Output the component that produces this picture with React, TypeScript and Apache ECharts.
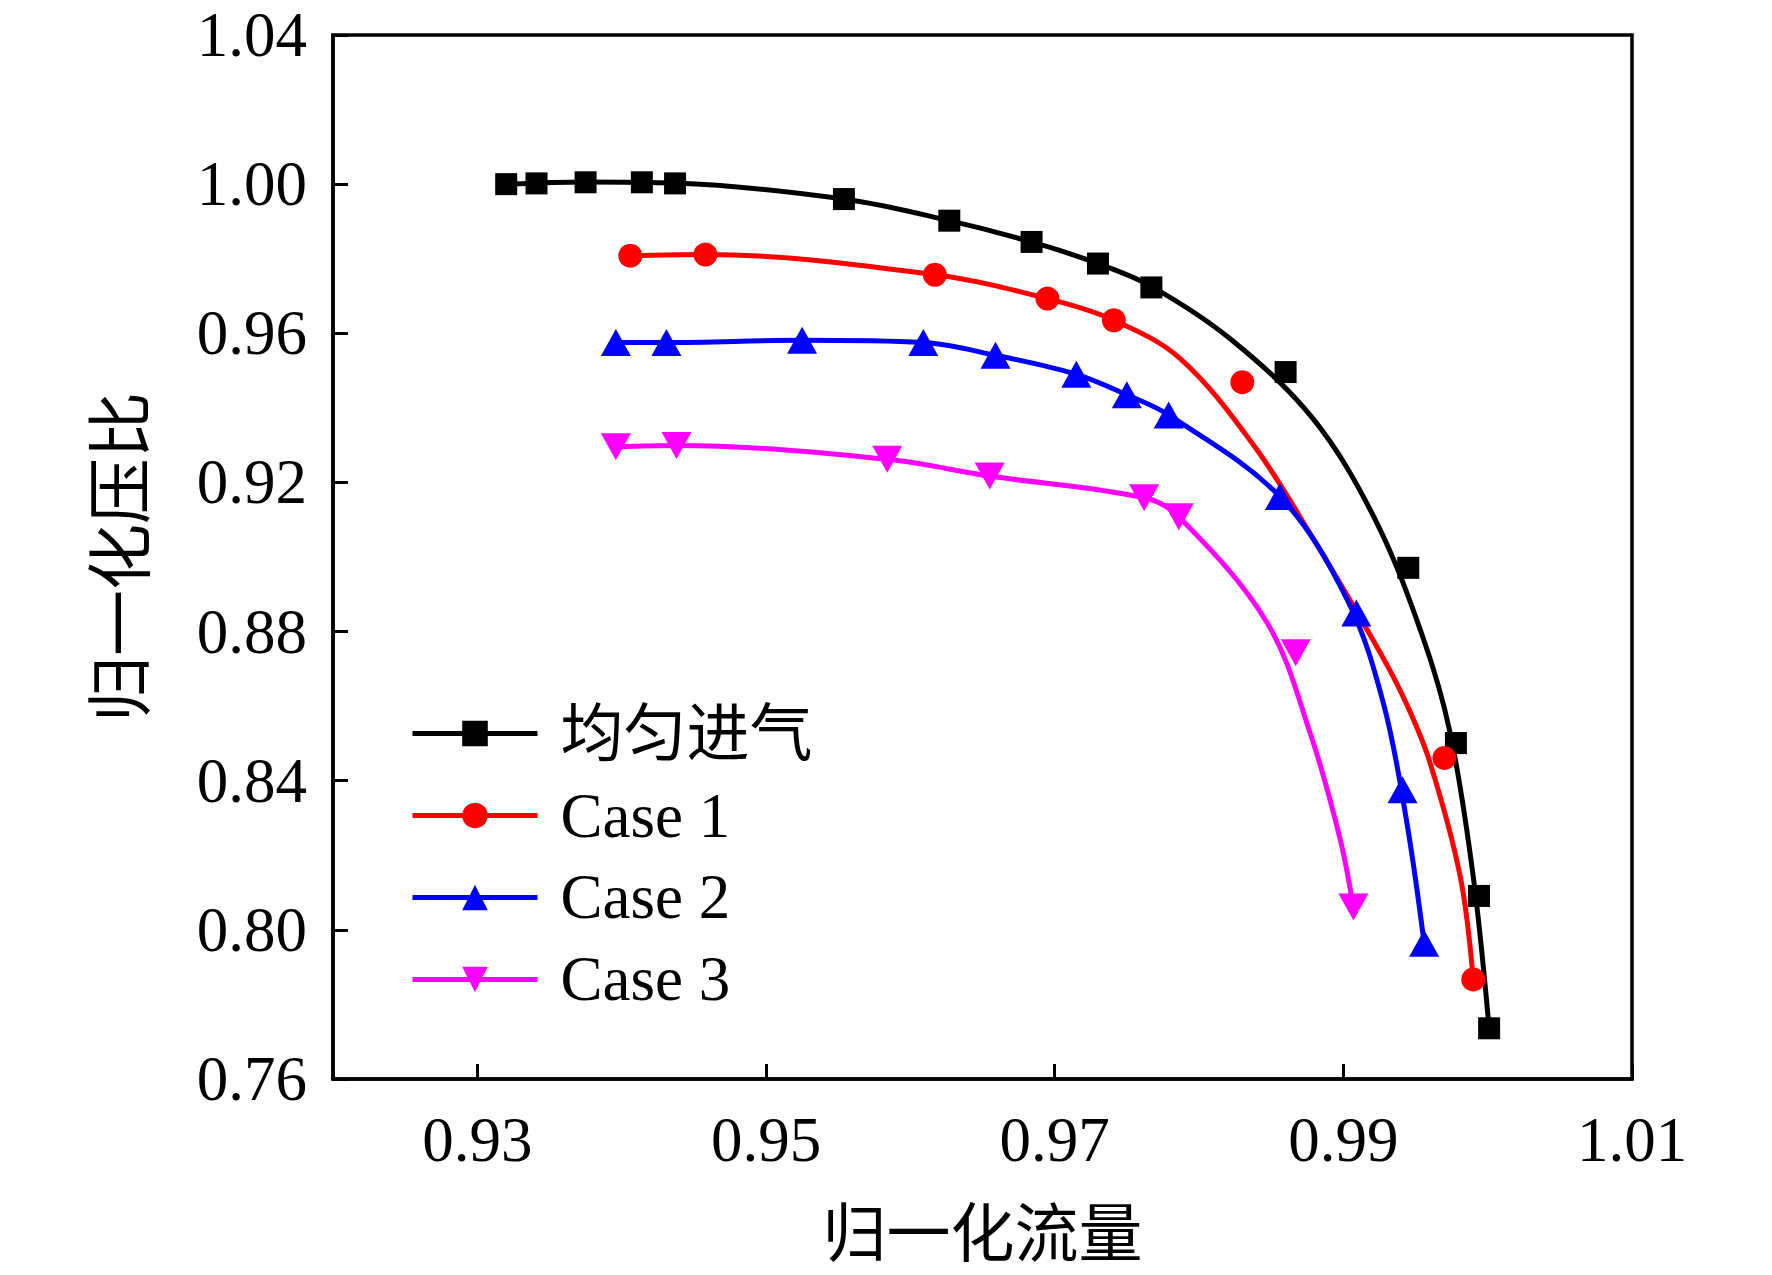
import React, { useEffect, useRef } from "react";
import * as echarts from "echarts";

const SERIF = "'Liberation Serif', 'Times New Roman', 'Noto Sans CJK SC', serif";
const CJK = "'Noto Sans CJK SC', 'Liberation Serif', sans-serif";

const xAxisTitle = "归一化流量";
const yAxisTitle = "归一化压比";
const seriesNames = ["均匀进气", "Case 1", "Case 2", "Case 3"];
const xTicks = [0.93, 0.95, 0.97, 0.99, 1.01];

// measured markers [flow, pressure ratio]
const uniformMarkers = [
  [0.932, 1.0], [0.9341, 1.0002], [0.9375, 1.0005], [0.9414, 1.0005], [0.9437, 1.0002],
  [0.9554, 0.996], [0.9627, 0.9902], [0.9684, 0.9845], [0.973, 0.9787], [0.9767, 0.9723],
  [0.986, 0.9496], [0.9945, 0.8971], [0.9978, 0.8501], [0.9994, 0.8091], [1.0001, 0.7736],
];
const case1Markers = [
  [0.9406, 0.9808], [0.9458, 0.9811], [0.9617, 0.9757], [0.9695, 0.9693], [0.9741, 0.9635],
  [0.983, 0.9469], [0.997, 0.8461], [0.999, 0.7867],
];
const case2Markers = [
  [0.9396, 0.9575], [0.9431, 0.9575], [0.9525, 0.9581], [0.9609, 0.9575], [0.9659, 0.9541],
  [0.9715, 0.949], [0.975, 0.9435], [0.9779, 0.9381], [0.9856, 0.9162], [0.9909, 0.885],
  [0.9941, 0.8376], [0.9956, 0.7964],
];
const case3Markers = [
  [0.9396, 0.9296], [0.9438, 0.9299], [0.9584, 0.9262], [0.9655, 0.9217], [0.9762, 0.9159],
  [0.9786, 0.9108], [0.9867, 0.8743], [0.9907, 0.8061],
];

// fitted curves
const uniformCurve = [
  [0.932, 1.0], [0.9375, 1.0006], [0.9437, 1.0003],
  [0.9554, 0.996], [0.9627, 0.9902], [0.9684, 0.9845], [0.973, 0.9787], [0.9767, 0.9726],
  [0.9822, 0.9584], [0.9879, 0.9371],
  [0.9922, 0.9101], [0.9955, 0.8786], [0.9974, 0.8528],
  [0.999, 0.8143], [1.0001, 0.7736],
];
const case1Curve = [
  [0.9406, 0.9808], [0.9458, 0.9811], [0.9617, 0.9757], [0.9695, 0.9693], [0.9741, 0.9635],
  [0.9787, 0.9532], [0.9838, 0.9299], [0.9879, 0.905],
  [0.9925, 0.8747], [0.9944, 0.8604], [0.996, 0.8449],
  [0.9981, 0.8143], [0.999, 0.7867],
];
const case2Curve = [
  [0.9396, 0.9575], [0.9431, 0.9575], [0.9525, 0.9581], [0.9609, 0.9575], [0.9659, 0.9541],
  [0.9715, 0.949], [0.975, 0.9435], [0.9779, 0.9381], [0.9856, 0.9162],
  [0.9903, 0.8883], [0.9928, 0.8604],
  [0.9944, 0.8288], [0.9956, 0.7964],
];
const case3Curve = [
  [0.9396, 0.9296], [0.9438, 0.9299], [0.9584, 0.9262], [0.9655, 0.9217], [0.9762, 0.9159],
  [0.9786, 0.9108], [0.9847, 0.8825], [0.9877, 0.8528],
  [0.9898, 0.824], [0.9907, 0.8058],
];

const colors = ["#000000", "#ff0000", "#0000ff", "#ff00ff"];
const symbols = ["rect", "circle", "triangle", "triangle"];
const symbolRotates = [0, 0, 0, 180];
const symbolSizes: any[] = [22, 24, [30, 27], [30, 27]];
const curves = [uniformCurve, case1Curve, case2Curve, case3Curve];
const markers = [uniformMarkers, case1Markers, case2Markers, case3Markers];

export default function App() {
  const ref = useRef<HTMLDivElement>(null);
  useEffect(() => {
    const chart = echarts.init(ref.current!, null, { renderer: "svg" });
    const series: any[] = [];
    seriesNames.forEach((name, i) => {
      series.push({
        name,
        type: "line",
        data: curves[i],
        smooth: 0.35,
        showSymbol: false,
        symbol: symbols[i],
        symbolRotate: symbolRotates[i],
        symbolSize: symbolSizes[i],
        itemStyle: { color: colors[i] },
        lineStyle: { color: colors[i], width: 5 },
        emphasis: { disabled: true },
        z: 2,
        silent: true,
      });
    });
    seriesNames.forEach((name, i) => {
      series.push({
        name,
        type: "scatter",
        data: markers[i],
        symbol: symbols[i],
        symbolRotate: symbolRotates[i],
        symbolSize: symbolSizes[i],
        itemStyle: { color: colors[i], opacity: 1 },
        emphasis: { disabled: true },
        z: 3,
      });
    });
    chart.setOption({
      animation: false,
      backgroundColor: "#ffffff",
      grid: {
        left: 333,
        top: 35,
        right: 140,
        bottom: 196,
        show: true,
        borderColor: "#000",
        borderWidth: 3.5,
        containLabel: false,
      },
      legend: {
        orient: "vertical",
        left: 410,
        top: 702,
        padding: 0,
        itemWidth: 125,
        itemHeight: 32,
        itemGap: 19,
        data: seriesNames,
        lineStyle: { width: 5 },
        textStyle: {
          fontSize: 63,
          fontFamily: SERIF,
          color: "#000",
          padding: [0, 0, 0, 18],
        },
      },
      xAxis: {
        type: "value",
        min: 0.92,
        max: 1.01,
        name: xAxisTitle,
        nameLocation: "middle",
        nameGap: 117,
        nameTextStyle: { fontSize: 64, fontFamily: CJK, color: "#000" },
        axisLine: { onZero: false, lineStyle: { color: "#000", width: 3.5 } },
        axisTick: {
          inside: true,
          length: 15,
          customValues: xTicks,
          lineStyle: { color: "#000", width: 3 },
        },
        axisLabel: {
          customValues: xTicks,
          margin: 29,
          fontSize: 63,
          fontFamily: SERIF,
          color: "#000",
          formatter: (v: number) => v.toFixed(2),
        },
        splitLine: { show: false },
      },
      yAxis: {
        type: "value",
        min: 0.76,
        max: 1.04,
        interval: 0.04,
        name: yAxisTitle,
        nameLocation: "middle",
        nameGap: 185,
        nameTextStyle: { fontSize: 66, fontFamily: CJK, color: "#000" },
        axisLine: { onZero: false, lineStyle: { color: "#000", width: 3.5 } },
        axisTick: { inside: true, length: 15, lineStyle: { color: "#000", width: 3 } },
        axisLabel: {
          margin: 26,
          fontSize: 63,
          fontFamily: SERIF,
          color: "#000",
          formatter: (v: number) => v.toFixed(2),
        },
        splitLine: { show: false },
      },
      series,
    });
    return () => chart.dispose();
  }, []);
  return (
    <div
      ref={ref}
      style={{ position: "absolute", left: 0, top: 0, width: 1772, height: 1275, background: "#fff" }}
    />
  );
}
